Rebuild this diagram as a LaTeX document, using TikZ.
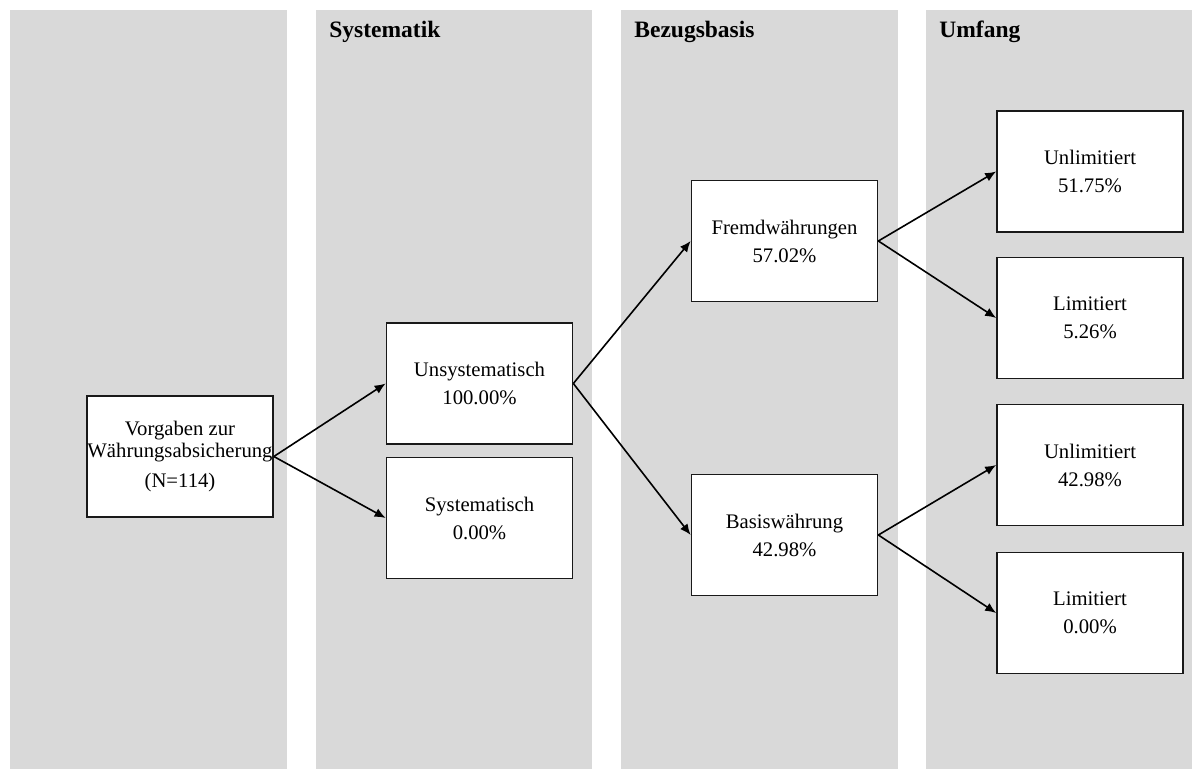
\documentclass[tikz,border=0pt]{standalone}
\usepackage{fontspec}
\setmainfont{Liberation Serif}
\usepackage{tikz}
\usetikzlibrary{arrows.meta}
\definecolor{bandgrau}{RGB}{217,217,217}

\begin{document}
\begin{tikzpicture}[x=0.5pt,y=-0.5pt,
  kasten/.style={draw=black!90,line width=0.85pt,fill=white,minimum width=93pt,minimum height=60.5pt,inner sep=0pt,align=center,font=\fontsize{10.35}{14}\selectfont},
  pfeil/.style={line width=0.8pt,-{Latex[length=5.5pt,width=4.6pt]}},
  kopf/.style={anchor=base west,inner sep=0pt,font=\fontsize{11.75}{14}\selectfont\bfseries}]
\useasboundingbox (0,0) rectangle (1192,769);

\foreach \l/\r in {10/287,316/592,621/898,926/1192} {
\fill[bandgrau] (\l,10) rectangle (\r,769);
}
% spaltenkoepfe
\node[kopf] (kopfsys) at (329,38) {Systematik};
\node[kopf] (kopfbez) at (634,38) {Bezugsbasis};
\node[kopf] (kopfumf) at (939,38) {Umfang};

\node[kasten] (vorgaben) at (180,456.5) {Vorgaben zur\\[-3pt]Währungsabsicherung\\[1pt](N=114)};
\node[kasten] (unsys) at (479.5,383.5) {Unsystematisch\\100.00\%};
\node[kasten] (sys) at (479.5,518) {Systematisch\\0.00\%};
\node[kasten] (fremd) at (784.5,241) {Fremdwährungen\\57.02\%};
\node[kasten] (basis) at (784.5,535) {Basiswährung\\42.98\%};
\node[kasten] (unlimA) at (1090,171.5) {Unlimitiert\\51.75\%};
\node[kasten] (limA) at (1090,318) {Limitiert\\5.26\%};
\node[kasten] (unlimB) at (1090,465) {Unlimitiert\\42.98\%};
\node[kasten] (limB) at (1090,613) {Limitiert\\0.00\%};

% pfeile
\draw[pfeil] (vorgaben.east) -- (unsys.west);
\draw[pfeil] (vorgaben.east) -- (sys.west);
\draw[pfeil] (unsys.east) -- (fremd.west);
\draw[pfeil] (unsys.east) -- (basis.west);
\draw[pfeil] (fremd.east) -- (unlimA.west);
\draw[pfeil] (fremd.east) -- (limA.west);
\draw[pfeil] (basis.east) -- (unlimB.west);
\draw[pfeil] (basis.east) -- (limB.west);
\end{tikzpicture}
\end{document}
